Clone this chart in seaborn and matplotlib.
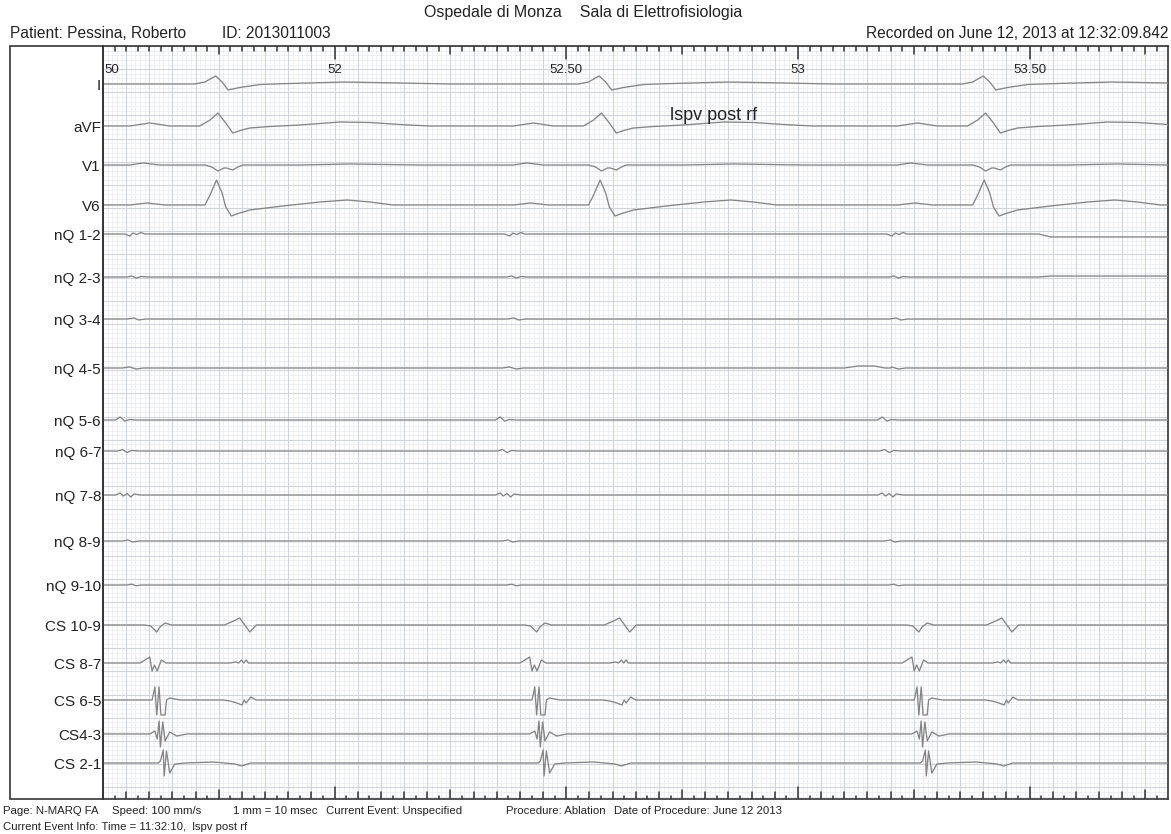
import numpy as np
import pandas as pd
import matplotlib
matplotlib.use("Agg")
import matplotlib.pyplot as plt
from matplotlib.patches import Rectangle
import seaborn as sns

# ------------------------------------------------------------------ data
channels = ["I", "aVF", "V1", "V6", "nQ 1-2", "nQ 2-3", "nQ 3-4", "nQ 4-5",
            "nQ 5-6", "nQ 6-7", "nQ 7-8", "nQ 8-9", "nQ 9-10",
            "CS 10-9", "CS 8-7", "CS 6-5", "CS4-3", "CS 2-1"]

# beat reference times (ms from left edge of the strip)
surface_beats_ms = [243, 1071, 1900]
atrial_beats_ms = [112, 932, 1757]

# time-axis tick labels
tick_ms = [0, 500, 1000, 1500, 2000]
tick_labels = ["50", "52", "52.50", "53", "53.50"]

# beat templates: time offset (ms) relative to beat, amplitude (px, up = +)
I_t = [-45, -23, 0, 14, 27, 52, 96, 160, 279, 398, 506]
I_v = [0, 2, 8, 2, -6, -3.5, -0.5, 0.5, 2, 1, 0]

aVF_t = [-185, -142, -99, -34, -12, 5, 22, 37, 57, 74, 117, 182, 268, 333, 398, 462]
aVF_v = [0, 3, 0, 0, 6, 13, 3, -7, -4, -2, -0.5, 1, 4, 3.5, 1.5, 0]

V1_t = [-185, -157, -120, -23, -8, 5, 18, 24, 37, 48, 59, 182, 290, 441]
V1_v = [0, 2, 0, 0, -2, -6, -3, -3, -5, -2, 0, 0, 1, 0]

V6_t = [-185, -148, -109, -23, -12, 2, 14, 22, 34, 52, 74, 145, 225, 284, 333, 383]
V6_v = [0, 2, 0, 0, 10, 25, 12, -2, -11, -8, -5, -1, 3, 5, 3, 0]

nQ12_t = [-65, -54, -47, -39, -30, -22, -11]
nQ12_v = [0, -2, 1, -0.5, 1.5, 0, 0]
nQ23_t = [-60, -50, -40, -30, -15]
nQ23_v = [0, 1, -1, 0.5, 0]
nQ34_t = [-60, -45, -35, -20]
nQ34_v = [0, 1, -1, 0]
nQ45_t = [-70, -55, -40, -25]
nQ45_v = [0, 1, -1, 0]
nQ56_t = [-85, -75, -65, -55, -40]
nQ56_v = [0, 3, -1, 0.5, 0]
nQ67_t = [-80, -70, -60, -50, -35]
nQ67_v = [0, 1.5, -1.5, 0.5, 0]
nQ78_t = [-85, -75, -68, -60, -52, -45, -30]
nQ78_v = [0, 2, -1, 1.5, -2, 1, 0]
nQ89_t = [-70, -58, -48, -35]
nQ89_v = [0, 1, -1, 0]
nQ910_t = [-60, -50, -40, -30]
nQ910_v = [0, 0.8, -0.8, 0]

CS109_t = [-22, -9, 4, 11, 22, 36, 150, 170, 183, 194, 205, 219]
CS109_v = [0, -1, -7, -2, 2, 0, 0, 4, 7, 0, -7, 0]
CS87_t = [-32, -11, -6, -1, 5, 14, 24, 32, 162, 175, 181, 187, 192, 197, 202, 215]
CS87_v = [0, 6, -8, -2, -8, 3, 0, 0, 0, 1, 0, 3, 0, 3, 0, 0]
CS65_t = [-6, 0, 4, 9, 13, 22, 25, 32, 54, 147, 162, 177, 188, 193, 197, 207, 218]
CS65_v = [0, 13, -15, 13, -15, -15, 0, 2, 0, 0, -1, -3, -5, 0, -3, 3, 0]
CS43_t = [-11, 0, 5, 9, 12, 17, 22, 32, 47, 69]
CS43_v = [0, 3, -5, 13, -13, 12, -7, 2, -2, 0]
CS21_t = [7, 12, 18, 20, 25, 32, 43, 65, 126, 151, 173, 187, 207]
CS21_v = [0, 2, 13, -13, 12, -10, -1, 0, 1, 0, -1, -3, 0]

# non-beat features (absolute ms, px)
nQ12_extra_t = [2020, 2045]
nQ12_extra_v = [0, -3]
nQ23_extra_t = [2020, 2045]
nQ23_extra_v = [0, 1]
nQ45_extra_t = [1600, 1630, 1665, 1700]
nQ45_extra_v = [0, 2, 2, 0]

# ------------------------------------------------------------------ layout
W, H = 1171, 834
PX_PER_MS = 0.4633
X0, X1 = 103, 1168          # plot area, px
Y0, Y1 = 46, 799
T_MAX = (X1 - X0) / PX_PER_MS

# trace baselines (px from figure top)
baseline_px = [84, 126, 165, 205, 234, 277, 319, 368, 420, 451, 495, 541, 585,
               625, 663, 700, 734, 763]

templates = {
    "I": (I_t, I_v, surface_beats_ms), "aVF": (aVF_t, aVF_v, surface_beats_ms),
    "V1": (V1_t, V1_v, surface_beats_ms), "V6": (V6_t, V6_v, surface_beats_ms),
    "nQ 1-2": (nQ12_t, nQ12_v, atrial_beats_ms), "nQ 2-3": (nQ23_t, nQ23_v, atrial_beats_ms),
    "nQ 3-4": (nQ34_t, nQ34_v, atrial_beats_ms), "nQ 4-5": (nQ45_t, nQ45_v, atrial_beats_ms),
    "nQ 5-6": (nQ56_t, nQ56_v, atrial_beats_ms), "nQ 6-7": (nQ67_t, nQ67_v, atrial_beats_ms),
    "nQ 7-8": (nQ78_t, nQ78_v, atrial_beats_ms), "nQ 8-9": (nQ89_t, nQ89_v, atrial_beats_ms),
    "nQ 9-10": (nQ910_t, nQ910_v, atrial_beats_ms),
    "CS 10-9": (CS109_t, CS109_v, atrial_beats_ms), "CS 8-7": (CS87_t, CS87_v, atrial_beats_ms),
    "CS 6-5": (CS65_t, CS65_v, atrial_beats_ms), "CS4-3": (CS43_t, CS43_v, atrial_beats_ms),
    "CS 2-1": (CS21_t, CS21_v, atrial_beats_ms),
}
extras = {
    "nQ 1-2": (nQ12_extra_t, nQ12_extra_v),
    "nQ 2-3": (nQ23_extra_t, nQ23_extra_v),
    "nQ 4-5": (nQ45_extra_t, nQ45_extra_v),
}

rows = []
for ch, base in zip(channels, baseline_px):
    tt, vv, beats = templates[ch]
    pts = [(0.0, 0.0)]
    end_v = 0.0
    if ch in extras:
        et, ev = extras[ch]
        pts += list(zip(et, ev))
        end_v = ev[-1]
    pts.append((T_MAX, end_v))
    for b in beats:
        pts += [(b + a, v) for a, v in zip(tt, vv)]
    pts = sorted(p for p in pts if 0 <= p[0] <= T_MAX)
    for t, v in pts:
        rows.append({"channel": ch, "t": t, "y": (base - Y0) - v})
df = pd.DataFrame(rows)

sns.set_theme(style="white")
plt.rcParams["font.family"] = ["Liberation Sans", "DejaVu Sans"]

fig = plt.figure(figsize=(W / 100, H / 100), dpi=100)
ax = fig.add_axes([X0 / W, 1 - Y1 / H, (X1 - X0) / W, (Y1 - Y0) / H])
YMAX = Y1 - Y0
ax.set_xlim(0, T_MAX)
ax.set_ylim(YMAX, 0)

# ECG paper grid
minor_x = np.arange(0, T_MAX, 10)
major_x = np.arange(0, T_MAX, 50)
mm = 10 * PX_PER_MS
minor_y = np.arange(0, YMAX, mm)
major_y = np.arange(0, YMAX, 5 * mm)
ax.vlines(minor_x, 0, YMAX, color="#eaedf1", lw=0.6, zorder=0)
ax.hlines(minor_y, 0, T_MAX, color="#eaedf1", lw=0.6, zorder=0)
ax.vlines(major_x, 0, YMAX, color="#cfd5db", lw=0.8, zorder=0.5)
ax.hlines(major_y, 0, T_MAX, color="#cfd5db", lw=0.8, zorder=0.5)

# traces
for ch in channels:
    d = df[df["channel"] == ch]
    sns.lineplot(data=d, x="t", y="y", ax=ax, color="#858585", lw=0.95,
                 estimator=None, sort=False, legend=False, zorder=3)

# tick marks (top and bottom rulers)
tick_step = 25
tks = np.arange(tick_step, T_MAX, tick_step)
for t in tks:
    if abs(t % 500) < 1e-6:
        ltop, lbot = 13, 12
    elif abs(t % 250) < 1e-6:
        ltop, lbot = 8, 9
    elif abs(t % 50) < 1e-6:
        ltop, lbot = 5, 7
    else:
        ltop, lbot = 5, 3
    ax.plot([t, t], [0, ltop], color="#333333", lw=1.1, zorder=4)
    ax.plot([t, t], [YMAX, YMAX - lbot], color="#333333", lw=1.1, zorder=4)

for t, lab in zip(tick_ms, tick_labels):
    if t == 0:
        ax.text(t + 4, 24, lab, ha="left", va="center", fontsize=9.5, color="#222222", zorder=5)
    else:
        ax.text(t, 24, lab, ha="center", va="center", fontsize=9.5, color="#222222", zorder=5)

ax.set_xticks([])
ax.set_yticks([])
ax.set_xlabel("")
ax.set_ylabel("")
for s in ax.spines.values():
    s.set_color("#333333")
    s.set_linewidth(1.2)

# label panel
fig.patches.append(Rectangle((10 / W, 1 - Y1 / H), (X0 - 10) / W, (Y1 - Y0) / H,
                             transform=fig.transFigure, fill=False,
                             edgecolor="#333333", lw=1.2))

def fx(x):
    return x / W

def fy(y):
    return 1 - y / H

for ch, base in zip(channels, baseline_px):
    fig.text(fx(101), fy(base + 2), ch, ha="right", va="center", fontsize=11, color="#222222")

fig.text(fx(583), fy(13), "Ospedale di Monza    Sala di Elettrofisiologia", ha="center",
         va="center", fontsize=11.5, color="#222222")
fig.text(fx(10), fy(33), "Patient: Pessina, Roberto", ha="left", va="center", fontsize=11.2, color="#222222")
fig.text(fx(222), fy(33), "ID: 2013011003", ha="left", va="center", fontsize=11.2, color="#222222")
fig.text(fx(1168), fy(33), "Recorded on June 12, 2013 at 12:32:09.842", ha="right", va="center",
         fontsize=11.2, color="#222222")
fig.text(fx(670), fy(115), "lspv post rf", ha="left", va="center", fontsize=13, color="#222222")

foot = [(3, "Page: N-MARQ FA"), (112, "Speed: 100 mm/s"), (233, "1 mm = 10 msec"),
        (326, "Current Event: Unspecified"), (506, "Procedure: Ablation"),
        (614, "Date of Procedure: June 12 2013")]
for x, s in foot:
    fig.text(fx(x), fy(811), s, ha="left", va="center", fontsize=8.2, color="#222222")
fig.text(fx(3), fy(827), "Current Event Info: Time = 11:32:10,  lspv post rf", ha="left",
         va="center", fontsize=8.2, color="#222222")

fig.savefig("out.png", dpi=100, facecolor="white")
